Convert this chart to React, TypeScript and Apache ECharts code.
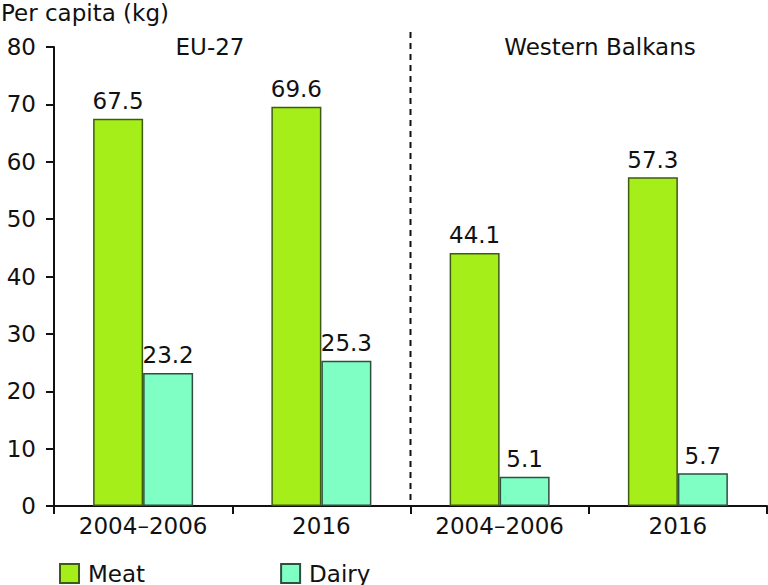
import React, { useEffect, useRef } from "react";
import * as echarts from "echarts";

const categories = ["EU-27|2004–2006", "EU-27|2016", "WB|2004–2006", "WB|2016"];
const groupLabels = ["EU-27", "Western Balkans"];
const meat = [67.5, 69.6, 44.1, 57.3];
const dairy = [23.2, 25.3, 5.1, 5.7];
const yTicks = { min: 0, max: 80, interval: 10 };

const FONT = "DejaVu Sans";
const FS = 23;

export default function App() {
  const ref = useRef<HTMLDivElement>(null);
  useEffect(() => {
    if (!ref.current) return;
    const chart = echarts.init(ref.current, undefined, { renderer: "svg" });
    const labelStyle = {
      show: true,
      position: "top",
      distance: 6,
      fontFamily: FONT,
      fontSize: FS,
      color: "#111",
      formatter: (p: any) => Number(p.value).toFixed(1),
    };
    chart.setOption({
      animation: false,
      backgroundColor: "#fff",
      textStyle: { fontFamily: FONT },
      grid: { left: 54, right: 1, top: 47, bottom: 79, containLabel: false },
      legend: {
        left: 59,
        top: 562,
        padding: 0,
        itemWidth: 19,
        itemHeight: 19,
        itemGap: 135,
        icon: "rect",
        textStyle: { fontFamily: FONT, fontSize: FS, color: "#111", padding: [0, 0, 0, 4], lineHeight: 20 },
        data: ["Meat", "Dairy"],
      },
      xAxis: {
        type: "category",
        data: categories,
        axisLine: { lineStyle: { color: "#111", width: 2 } },
        axisTick: { show: true, length: 8, interval: 0, lineStyle: { color: "#111", width: 2 } },
        axisLabel: {
          interval: 0,
          margin: 8,
          fontFamily: FONT,
          fontSize: FS,
          color: "#111",
          formatter: (v: string) => v.split("|")[1],
        },
      },
      yAxis: {
        type: "value",
        min: yTicks.min,
        max: yTicks.max,
        interval: yTicks.interval,
        axisLine: { show: true, lineStyle: { color: "#111", width: 2 } },
        axisTick: { show: true, length: 8, lineStyle: { color: "#111", width: 2 } },
        axisLabel: { margin: 18, fontFamily: FONT, fontSize: FS, color: "#111" },
        splitLine: { show: false },
      },
      series: [
        {
          name: "Meat",
          type: "bar",
          data: meat,
          barWidth: 50,
          barGap: "0%",
          itemStyle: { color: "#A6EE1A", borderColor: "#3D5C12", borderWidth: 1.5 },
          label: labelStyle,
        },
        {
          name: "Dairy",
          type: "bar",
          data: dairy,
          barWidth: 50,
          barGap: "0%",
          itemStyle: { color: "#80FFC5", borderColor: "#2F4F3F", borderWidth: 1.5 },
          label: labelStyle,
        },
      ],
    });

    const x1 = chart.convertToPixel({ xAxisIndex: 0 }, categories[1]) as number;
    const x2 = chart.convertToPixel({ xAxisIndex: 0 }, categories[2]) as number;
    const xMid = (x1 + x2) / 2;
    const yBottom = chart.convertToPixel({ yAxisIndex: 0 }, 0) as number;
    const yTop = chart.convertToPixel({ yAxisIndex: 0 }, 82.6) as number;

    const textBase = { fontFamily: FONT, fontSize: FS, fill: "#111" };
    chart.setOption({
      graphic: [
        {
          type: "text",
          left: 1,
          top: 1,
          style: { ...textBase, text: "Per capita (kg)" },
        },
        {
          type: "text",
          x: 210,
          y: 47,
          style: { ...textBase, text: groupLabels[0], align: "center", verticalAlign: "middle" },
        },
        {
          type: "text",
          x: 600,
          y: 47,
          style: { ...textBase, text: groupLabels[1], align: "center", verticalAlign: "middle" },
        },
        {
          type: "line",
          shape: { x1: xMid, y1: yTop, x2: xMid, y2: yBottom },
          style: { stroke: "#111", lineWidth: 2, lineDash: [6, 5] },
        },
      ],
    });

    return () => chart.dispose();
  }, []);
  return <div ref={ref} style={{ width: 768, height: 585, position: "absolute", left: 0, top: 0 }} />;
}
